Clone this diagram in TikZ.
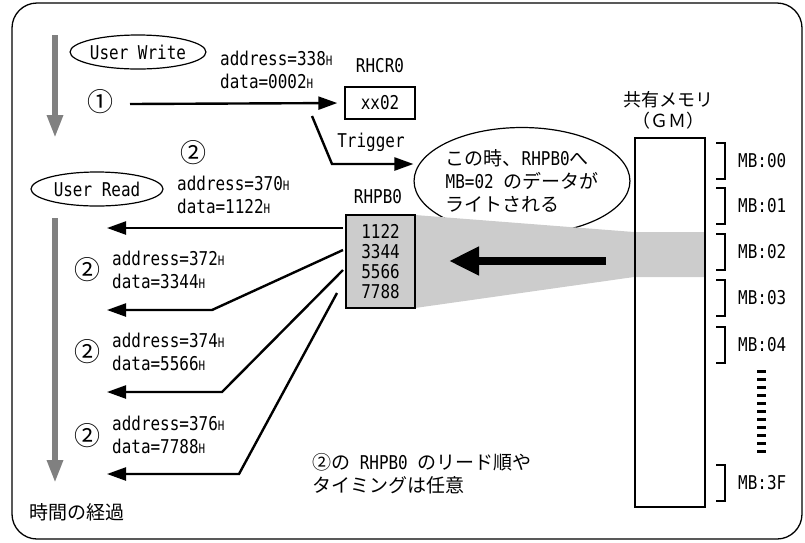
\documentclass[tikz,border=0pt]{standalone}
\usepackage{fontspec}
\setmainfont{DejaVu Sans Mono}[FakeStretch=0.84]
\newfontfamily\jp{Noto Sans CJK JP}
\usepackage{tikz}
\usetikzlibrary{arrows.meta}
\usetikzlibrary{shapes.geometric}
\usetikzlibrary{positioning}
\newcommand{\hx}{{\fontsize{13}{13}\selectfont H}}

\begin{document}
\begin{tikzpicture}[x=1pt, y=-1pt,
  every node/.style={inner sep=0pt, font=\fontsize{19}{23}\selectfont},
  txt/.style={align=left, anchor=west},
  circ/.style={font=\jp\fontsize{26}{26}\selectfont},
  oval/.style={ellipse, draw, line width=1.2pt, minimum width=132pt, minimum height=34pt},
  rw/.style={line width=2.4pt, -{Triangle[length=19pt, width=13pt]}},
  timeflow/.style={draw=gray, line width=6pt, -{Triangle[length=23pt, width=15pt]}},
  mbbrace/.style={line width=2pt}]
 \useasboundingbox (0,0) rectangle (805,542);
 \draw [line width=1.3pt, rounded corners=25pt] (12,3) rectangle (802,539);

 % time flow
 \coordinate (g0) at (55,35);
 \coordinate (g1) at (55,138);
 \coordinate (g2) at (55,218);
 \coordinate (g3) at (55,483);
 \draw [timeflow] (g0) -- (g1);
 \draw [timeflow] (g2) -- (g3);
 \node [txt] (time) at (29,512) {\jp 時間の経過};

 % write
 \node [oval] (uw) at (138,52) {User Write};
 \node [txt] (waddr) at (220,69.5) {address=338\hx\\data=0002\hx};
 \node [circ] (one) at (100,102) {①};
 \node (rhcr) at (380,66) {RHCR0};
 \node [draw, line width=1.4pt, minimum width=70pt, minimum height=32pt] (cr) at (380,103) {xx02};
 \coordinate (w0) at (130,104);
 \draw [rw, shorten >=7pt] (w0) -- (cr.west);

 % trigger
 \node (trig) at (371,142) {Trigger};
 \node [ellipse, draw, line width=1.2pt, minimum width=199pt, minimum height=107pt, align=left] (note) at (522,181)
   {{\jp この時、}RHPB0{\jp へ}\\MB=02 {\jp のデータが}\\{\jp ライトされる}};
 \coordinate (t0) at (312,116);
 \coordinate (t1) at (332,164);
 \draw [rw] (t0) -- (t1) -- (note.west |- t1);

 % shared memory
 \node [font=\jp\fontsize{18}{23}\selectfont] (gmtitle) at (668,100) {共有メモリ};
 \node [font=\jp\fontsize{18}{23}\selectfont] (gmsub) at (668,121) {（ＧＭ）};
 \fill [gray!40] (415,215) -- (634,232) -- (705,232) -- (705,277) -- (634,277) -- (415,308) -- cycle;
 \node [draw, line width=1.5pt, minimum width=70pt, minimum height=369pt] (gm) at (670,322.5) {};
 \foreach \y/\m in {143/00, 188/01, 234/02, 280/03, 327/04, 465/3F} {
   \draw [mbbrace] (716,\y) -- (725,\y) -- (725,\y+36) -- (716,\y+36);
   \node [txt] (mb\m) at (738,\y+18) {MB:\m};
 }
 \draw [line width=9pt, dash pattern=on 2.7pt off 5.3pt] (761,370) -- (761,453);

 % read buffer
 \node (rhpb) at (378,197) {RHPB0};
 \node [draw, fill=gray!40, line width=1.2pt, minimum width=69pt, minimum height=93pt, align=center,
   font=\fontsize{19}{20}\selectfont] (pb) at (380.5,261.5) {1122\\3344\\5566\\7788};
 \coordinate (a0) at (606,261);
 \coordinate (a1) at (449,261);
 \draw [line width=8pt, -{Triangle[length=30pt, width=27pt]}] (a0) -- (a1);

 % read
 \node [oval] (ur) at (97,189) {User Read};
 \node [circ] (two1) at (193,153) {②};
 \node [txt] (raddr1) at (177,195) {address=370\hx\\data=1122\hx};
 \node [circ] (two2) at (87,270) {②};
 \node [txt] (raddr2) at (112,270) {address=372\hx\\data=3344\hx};
 \node [circ] (two3) at (87,352) {②};
 \node [txt] (raddr3) at (112,352) {address=374\hx\\data=5566\hx};
 \node [circ] (two4) at (87,436) {②};
 \node [txt] (raddr4) at (112,435) {address=376\hx\\data=7788\hx};
 \coordinate (s1) at (343,228);
 \coordinate (s2) at (343,250);
 \coordinate (s3) at (343,270);
 \coordinate (s4) at (337,293);
 \coordinate (k2) at (212,310);
 \coordinate (k3) at (222,392);
 \coordinate (k4) at (239,474);
 \coordinate (e1) at (107,228);
 \coordinate (e2) at (107,310);
 \coordinate (e3) at (107,392);
 \coordinate (e4) at (107,474);
 \draw [rw] (s1) -- (e1);
 \draw [rw] (s2) -- (k2) -- (e2);
 \draw [rw] (s3) -- (k3) -- (e3);
 \draw [rw] (s4) -- (k4) -- (e4);
 \node [txt] (order) at (312,474) {{\jp ②の} RHPB0 {\jp のリード順や}\\{\jp タイミングは任意}};
\end{tikzpicture}
\end{document}
